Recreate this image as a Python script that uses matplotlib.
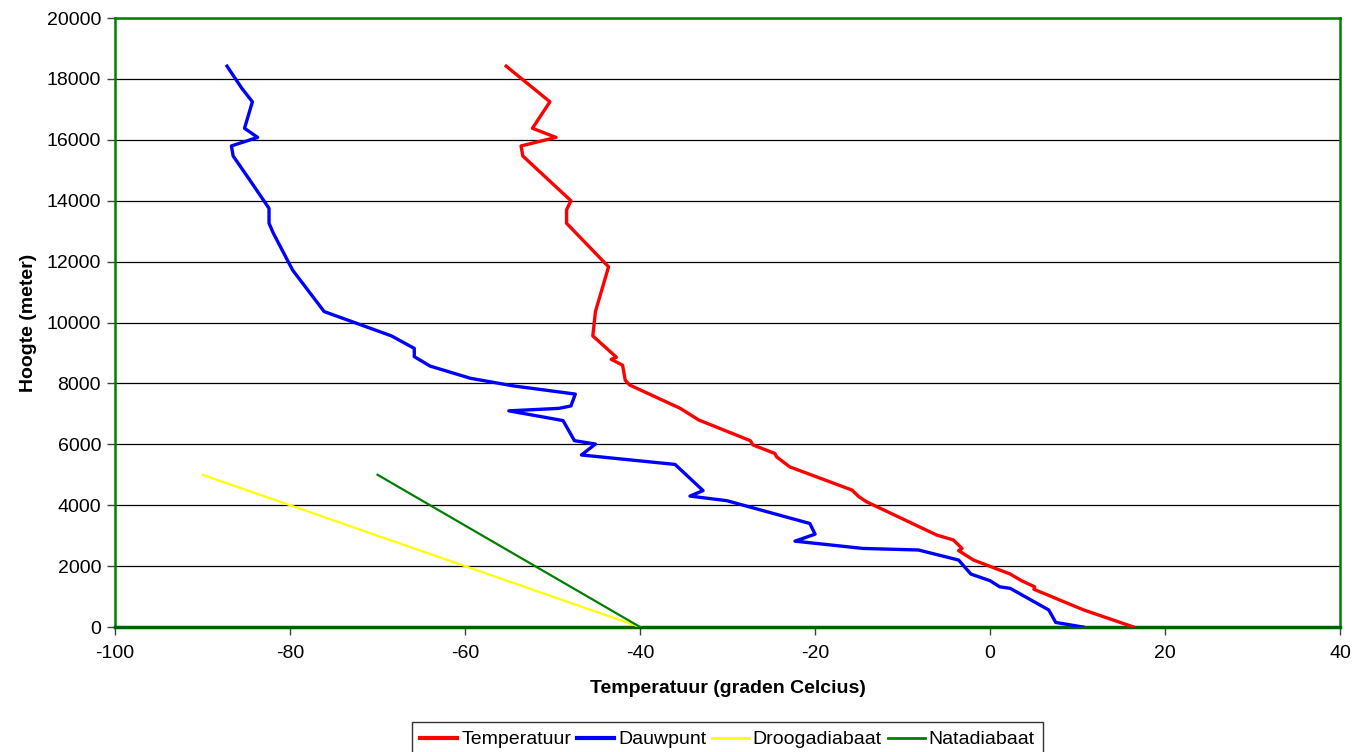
import matplotlib
matplotlib.use("Agg")
import matplotlib.pyplot as plt

plt.rcParams['font.family'] = ['Liberation Sans', 'DejaVu Sans']
plt.rcParams['axes.unicode_minus'] = False

# sounding data
temp_t = [16.4, 10.7, 5.0, 5.1, 3.6, 2.3, -1.9, -3.6, -3.2, -4.2, -6.1, -14.1,
          -15.0, -15.8, -22.9, -24.4, -24.6, -27.1, -27.4, -33.3, -35.4, -41.2,
          -41.7, -42.0, -43.3, -42.7, -45.4, -45.1, -43.6, -48.4, -48.4, -47.9,
          -53.4, -53.6, -49.6, -52.3, -50.3, -55.3]
temp_h = [0, 560, 1240, 1320, 1520, 1740, 2200, 2510, 2580, 2860, 3020, 4110,
          4280, 4500, 5260, 5590, 5700, 5980, 6120, 6800, 7180, 7950,
          8110, 8600, 8790, 8860, 9560, 10360, 11830, 13260, 13700, 14000,
          15470, 15800, 16080, 16380, 17250, 18420]

dew_t = [10.6, 7.5, 6.7, 2.3, 1.1, 0.0, -2.2, -3.6, -8.2, -14.5, -22.3, -20.0,
         -20.6, -30.1, -34.3, -32.8, -36.0, -46.7, -45.1, -47.5, -48.8, -55.0,
         -49.3, -47.9, -47.4, -54.5, -59.4, -64.0, -65.8, -65.8, -68.4, -76.1,
         -79.7, -81.9, -82.4, -82.4, -84.6, -86.5, -86.7, -83.7, -85.2, -84.3,
         -85.5, -87.2]
dew_h = [0, 150, 560, 1270, 1320, 1520, 1740, 2200, 2530, 2580, 2820, 3050,
         3400, 4150, 4300, 4480, 5340, 5650, 6010, 6120, 6780, 7100,
         7180, 7260, 7650, 7920, 8170, 8570, 8880, 9150, 9560, 10360,
         11720, 12930, 13260, 13750, 14680, 15470, 15800, 16080, 16380, 17250,
         17690, 18420]

dry_t = [-40, -90]
dry_h = [0, 5000]
wet_t = [-40, -70]
wet_h = [0, 5000]

fig = plt.figure(figsize=(13.53, 7.52), dpi=100)
ax = fig.add_axes([0.085, 0.1662, 0.9055, 0.8098])

ax.plot(temp_t, temp_h, color='#ff0000', lw=2.4, label='Temperatuur', zorder=4)
ax.plot(dew_t, dew_h, color='#0000ff', lw=2.4, label='Dauwpunt', zorder=4)
ax.plot(dry_t, dry_h, color='#ffff00', lw=1.6, label='Droogadiabaat', zorder=3)
ax.plot(wet_t, wet_h, color='#008000', lw=1.6, label='Natadiabaat', zorder=3)

ax.set_xlim(-100, 40)
ax.set_ylim(0, 20000)
ax.set_xticks(range(-100, 41, 20))
ax.set_yticks(range(0, 20001, 2000))
ax.grid(axis='y', color='black', lw=0.9)
ax.set_axisbelow(True)

for s in ax.spines.values():
    s.set_color('#008000')
    s.set_linewidth(1.8)
ax.spines['bottom'].set_linewidth(2.5)
ax.spines['bottom'].set_color('#006000')

ax.tick_params(axis='both', direction='out', length=6, width=1, color='#404040',
               labelsize=14)
ax.tick_params(axis='x', pad=7)
ax.tick_params(axis='y', pad=4)

ax.set_xlabel('Temperatuur (graden Celcius)', fontsize=14, fontweight='bold', labelpad=13)
ax.set_ylabel('Hoogte (meter)', fontsize=14, fontweight='bold', labelpad=7)

leg = ax.legend(loc='upper center', bbox_to_anchor=(0.5, -0.156), ncol=4,
                frameon=True, fancybox=False, fontsize=14, handlelength=1.9,
                handletextpad=0.2, columnspacing=0.3, borderpad=0.45,
                borderaxespad=0)
leg.get_frame().set_edgecolor('black')
leg.get_frame().set_linewidth(1.0)
for h, w in zip(leg.get_lines(), [3, 3, 2, 2]):
    h.set_linewidth(w)

fig.savefig('out.png', dpi=100)
